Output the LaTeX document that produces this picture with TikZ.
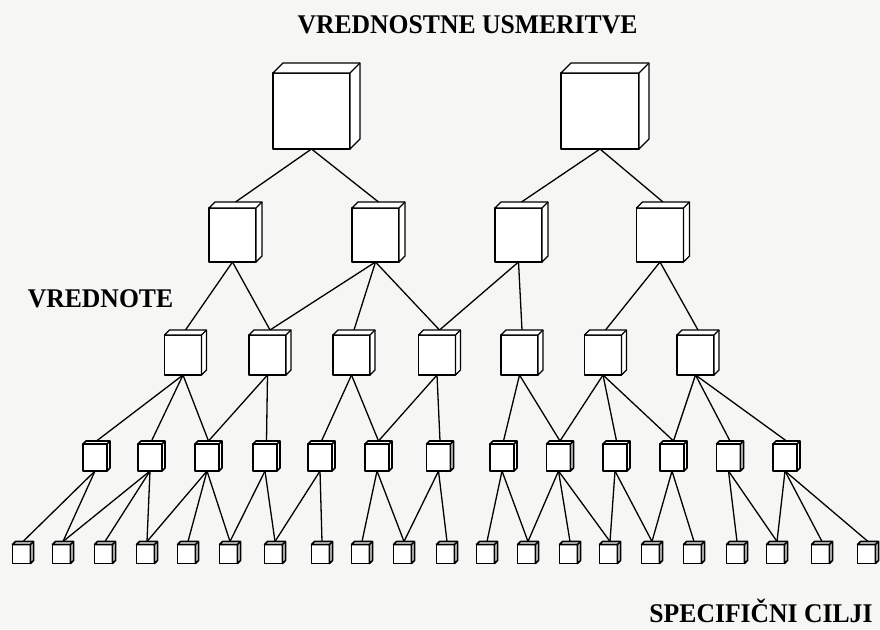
\documentclass[tikz,border=0pt]{standalone}
\usepackage{fontspec}
\setmainfont{Liberation Serif}
\usetikzlibrary{calc}
\pgfdeclarelayer{bg}
\pgfsetlayers{bg,main}
\definecolor{paper}{RGB}{246,246,245}
\newcommand\mkbox[7][]{% opts, name, x, y, w, h, depth
  \node[box, #1, minimum width=#5pt, minimum height=#6pt] (#2) at (#3,#4) {};
  \draw[box, #1] (#2.north west) -- ++(#7,-#7) -- ($(#2.north east)+(#7,-#7)$)
     -- ($(#2.south east)+(#7,-#7)$) -- (#2.south east) -- (#2.north east) -- cycle;
  \draw[box, #1] (#2.north east) -- ++(#7,-#7);
  \coordinate (#2t) at ($(#2.north)+(#7/2,-#7)$);
}
\begin{document}
\begin{tikzpicture}[x=1pt,y=-1pt,
  box/.style={draw=black, fill=white, line width=1.3pt, inner sep=0pt, outer sep=0pt, line join=round},
  small/.style={line width=1.6pt},
  link/.style={line width=1.3pt, black},
  lbl/.style={font=\fontsize{27}{27}\selectfont\bfseries, anchor=base, xscale=0.95, inner sep=0pt}]
\begin{pgfonlayer}{bg}
\fill[paper] (0,0) rectangle (880,629);
\end{pgfonlayer}
\useasboundingbox (0,0) rectangle (880,629);

% labels
\node[lbl] (title) at (467.5,33) {VREDNOSTNE USMERITVE};
\node[lbl] (vred) at (100.5,307) {VREDNOTE};
\node[lbl] (spec) at (761,622) {SPECIFIČNI CILJI};

% level 1
\mkbox{a1}{311.5}{111}{77}{76}{10}
\mkbox{a2}{600}{111}{78}{76}{10}
% level 2
\foreach \n/\x in {b1/232.5, b2/375.5, b3/518.5, b4/660}{\mkbox{\n}{\x}{235}{47}{54}{6}}
% level 3
\foreach \n/\x in {c1/183, c2/267.5, c3/351.5, c4/437, c5/519.5, c6/603, c7/695.5}{\mkbox{\n}{\x}{355}{37}{40}{5}}
% level 4
\foreach \n/\x in {d1/95, d2/150, d3/207, d4/265, d5/320, d6/377, d7/438.5, d8/502, d9/558.5, d10/615, d11/672, d12/728.5, d13/785}{\mkbox[small]{\n}{\x}{457.5}{24}{27}{3}}
% level 5
\foreach \n/\x in {e1/21.5, e2/61.5, e3/103.5, e4/145.5, e5/186.5, e6/228.5, e7/273.5, e8/320.5, e9/360.5, e10/402.5, e11/445.5, e12/485.5, e13/526.5, e14/568.5, e15/608.5, e16/650.5, e17/692.5, e18/735.5, e19/775.5, e20/820.5, e21/866.5}{\mkbox[small]{\n}{\x}{554}{18}{19}{3}}

\begin{pgfonlayer}{bg}
\foreach \u/\v in {a1/b1, a1/b2, a2/b3, a2/b4,
  b1/c1, b1/c2, b2/c2, b2/c3, b2/c4, b3/c4, b3/c5, b4/c6, b4/c7,
  c1/d1, c1/d2, c1/d3, c2/d3, c2/d4, c3/d5, c3/d6, c4/d6, c4/d7, c5/d8, c5/d9,
  c6/d9, c6/d10, c6/d11, c7/d11, c7/d12, c7/d13,
  d1/e1, d1/e2, d2/e2, d2/e3, d2/e4, d3/e4, d3/e5, d3/e6, d4/e6, d4/e7,
  d5/e7, d5/e8, d6/e9, d6/e10, d7/e10, d7/e11, d8/e12, d8/e13,
  d9/e13, d9/e14, d9/e15, d10/e15, d10/e16, d11/e16, d11/e17,
  d12/e18, d12/e19, d13/e19, d13/e20, d13/e21}
  {\draw[link] (\u.south) -- (\v t);}
\end{pgfonlayer}
\end{tikzpicture}
\end{document}
